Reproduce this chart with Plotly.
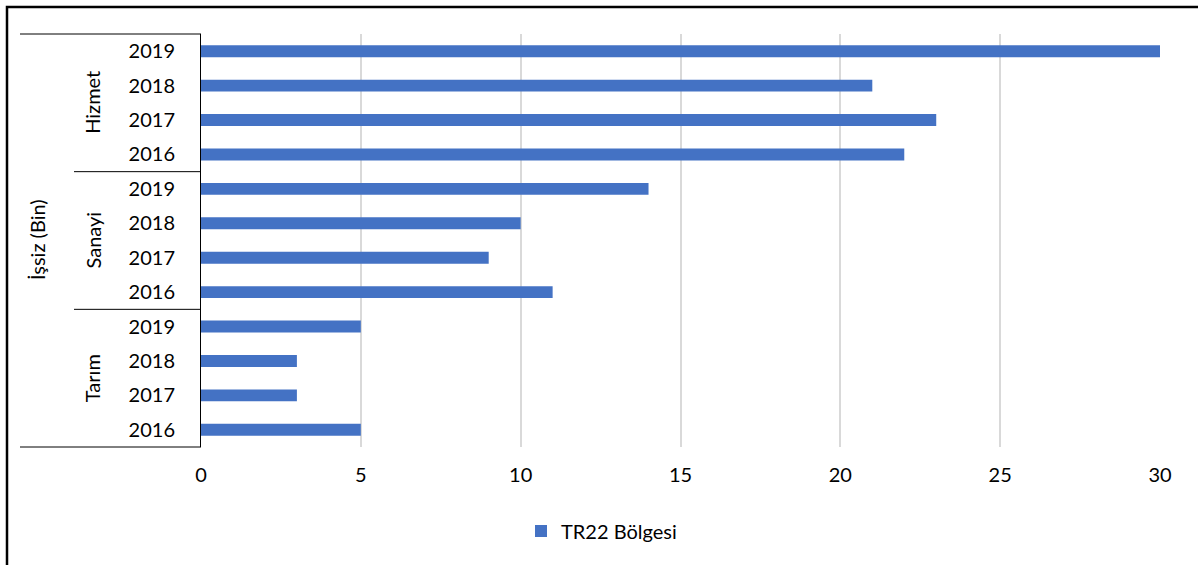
import plotly.graph_objects as go

sectors = ["Tarım", "Sanayi", "Hizmet"]
years = ["2016", "2017", "2018", "2019"]
tarim = [5, 3, 3, 5]
sanayi = [11, 9, 10, 14]
hizmet = [22, 23, 21, 30]
series_name = "TR22 Bölgesi"
axis_title = "İşsiz (Bin)"
x_ticks = [0, 5, 10, 15, 20, 25, 30]

values = tarim + sanayi + hizmet
cats = [f"{s} {y}" for s in sectors for y in years]
tick_text = [y for s in sectors for y in years]

W, H = 1198, 565
L, R, T, B = 201, 1160, 34, 447
pw, ph = R - L, B - T

def px(x):
    return (x - L) / pw

def py(y):
    return (B - y) / ph

FONT = "Lato"
FS = 20
fig = go.Figure()
fig.add_trace(go.Bar(
    x=values, y=cats, orientation="h", name=series_name,
    marker=dict(color="#4472C4", line=dict(width=0)),
    showlegend=True,
))

fig.update_layout(
    width=W, height=H,
    margin=dict(l=L, r=W - R, t=T, b=H - B, pad=0),
    paper_bgcolor="white", plot_bgcolor="white",
    bargap=0.655,
    font=dict(family=FONT, size=FS, color="#000000"),
    showlegend=True,
    legend=dict(orientation="h", x=px(521), xanchor="left", y=py(531), yanchor="middle",
                font=dict(family=FONT, size=FS, color="#000000"),
                itemwidth=30, tracegroupgap=0),
    xaxis=dict(range=[0, 30], tickvals=x_ticks, showgrid=True, gridcolor="#d9d9d9", gridwidth=1.5,
               zeroline=False, showline=False, ticks="", ticklabelstandoff=14,
               tickfont=dict(family=FONT, size=FS, color="#000000"), fixedrange=True),
    yaxis=dict(type="category", categoryorder="array", categoryarray=cats,
               tickvals=cats, ticktext=tick_text, showgrid=False, zeroline=False,
               showline=True, linecolor="#000000", linewidth=1, ticks="",
               ticklabelstandoff=21,
               tickfont=dict(family=FONT, size=FS, color="#000000"), fixedrange=True),
)

shapes = []
line = dict(color="#000000", width=1)
# group frame lines
shapes.append(dict(type="line", xref="paper", yref="paper", x0=px(20), x1=0, y0=1, y1=1, line=line))
shapes.append(dict(type="line", xref="paper", yref="paper", x0=px(20), x1=0, y0=0, y1=0, line=line))
shapes.append(dict(type="line", xref="paper", yref="paper", x0=px(74), x1=0, y0=8 / 12, y1=8 / 12, line=line))
shapes.append(dict(type="line", xref="paper", yref="paper", x0=px(74), x1=0, y0=4 / 12, y1=4 / 12, line=line))
# outer document border
shapes.append(dict(type="rect", xref="paper", yref="paper", x0=px(7), x1=px(1230), y0=py(7), y1=py(600),
                   line=dict(color="#000000", width=2.5), fillcolor="rgba(0,0,0,0)", layer="above"))
fig.update_layout(shapes=shapes)

annotations = []
for s, yc in zip(sectors, [2 / 12, 6 / 12, 10 / 12]):
    annotations.append(dict(text=s, xref="paper", yref="paper", x=px(92), y=yc, showarrow=False,
                            textangle=-90, xanchor="center", yanchor="middle",
                            font=dict(family=FONT, size=FS, color="#000000")))
annotations.append(dict(text=axis_title, xref="paper", yref="paper", x=px(37), y=py(240), showarrow=False,
                        textangle=-90, xanchor="center", yanchor="middle",
                        font=dict(family=FONT, size=FS, color="#000000")))
fig.update_layout(annotations=annotations)

fig.write_html("out.html", config={"displayModeBar": False},
               post_script="document.body.style.margin='0';document.body.style.padding='0';")
